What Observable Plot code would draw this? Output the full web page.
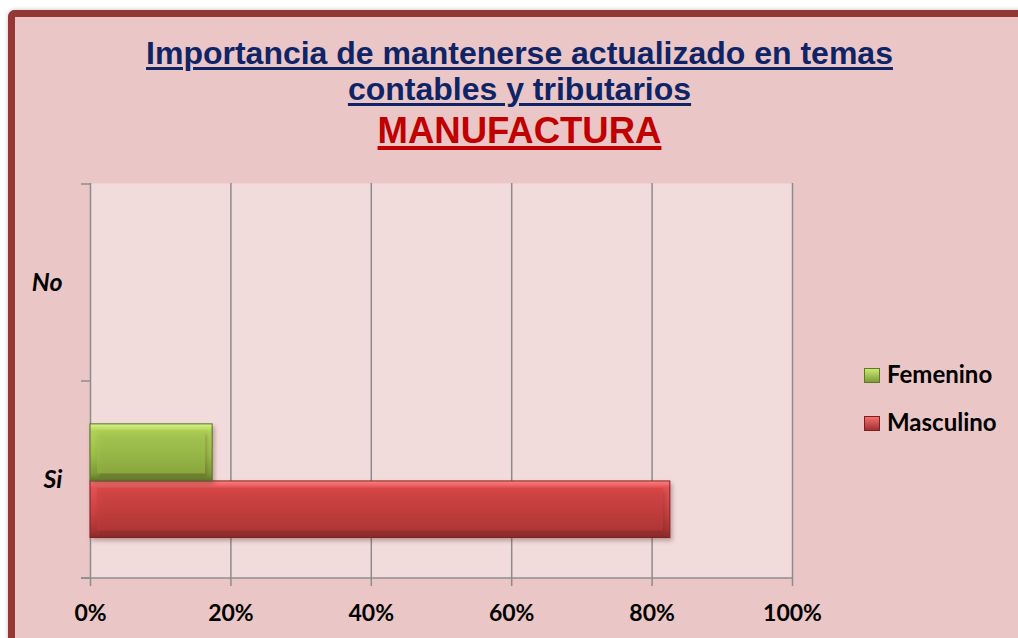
<!DOCTYPE html>
<html>
<head>
<meta charset="utf-8">
<script src="https://cdn.jsdelivr.net/npm/d3@7"></script>
<script src="https://cdn.jsdelivr.net/npm/@observablehq/plot@0.6"></script>
<style>
  body { margin: 0; background: #ffffff; }
  #wrap { position: relative; width: 1018px; height: 638px; overflow: hidden; background: #ffffff; }
  #panel { position: absolute; left: 8px; top: 10px; width: 1100px; height: 700px; background: #EBC6C6;
           border-left: 7px solid #953735; border-top: 7px solid #953735; border-top-left-radius: 7px;
           box-sizing: border-box; box-shadow: 0 0 4px rgba(0,0,0,0.25); }
  .title { position: absolute; left: 0; width: 1039px; text-align: center; font-family: "Liberation Sans", Arial, sans-serif;
           font-weight: bold; text-decoration: underline; white-space: nowrap; }
  .t12 { font-size: 32px; line-height: 36px; color: #0F2466; text-decoration-thickness: 3px; text-underline-offset: 3px; }
  .t3 { font-size: 36.5px; line-height: 40px; color: #C00000; text-decoration-thickness: 3.5px; text-underline-offset: 3px; }
  #chart { position: absolute; left: 0; top: 150px; }
  .legend { position: absolute; left: 864px; font-family: Lato, "Open Sans", sans-serif; font-weight: bold; font-size: 24px;
            line-height: 25px; color: #000; white-space: nowrap; }
  .sw { position: absolute; left: 0; width: 16px; height: 15px; box-sizing: border-box; }
  .legend span.lab { position: absolute; left: 23px; top: 0; }
  g[aria-label="bar"] rect { filter: drop-shadow(2px 3px 2px rgba(90,40,40,0.35)); }
</style>
</head>
<body>
<svg width="0" height="0" style="position:absolute">
  <defs>
    <linearGradient id="gGreen" x1="0" y1="0" x2="0" y2="1">
      <stop offset="0" stop-color="#D9F58A"/>
      <stop offset="0.12" stop-color="#B2D35A"/>
      <stop offset="0.55" stop-color="#9BBE48"/>
      <stop offset="0.88" stop-color="#7E9B38"/>
      <stop offset="1" stop-color="#5E7A28"/>
    </linearGradient>
    <linearGradient id="gGreenIn" x1="0" y1="0" x2="0" y2="1">
      <stop offset="0" stop-color="#A9CD55"/>
      <stop offset="1" stop-color="#8EAF40"/>
    </linearGradient>
    <linearGradient id="gRed" x1="0" y1="0" x2="0" y2="1">
      <stop offset="0" stop-color="#FF8080"/>
      <stop offset="0.12" stop-color="#E25252"/>
      <stop offset="0.55" stop-color="#CC4040"/>
      <stop offset="0.88" stop-color="#A93333"/>
      <stop offset="1" stop-color="#8A2828"/>
    </linearGradient>
    <linearGradient id="gRedIn" x1="0" y1="0" x2="0" y2="1">
      <stop offset="0" stop-color="#D84646"/>
      <stop offset="1" stop-color="#B53838"/>
    </linearGradient>
  </defs>
</svg>
<div id="wrap">
  <div id="panel"></div>
  <div class="title t12" style="top:35px">Importancia de mantenerse actualizado en temas</div>
  <div class="title t12" style="top:71px">contables y tributarios</div>
  <div class="title t3" style="top:111px">MANUFACTURA</div>
  <div id="chart"></div>
  <div class="legend" style="top:361px">
    <div class="sw" style="top:7px;background:linear-gradient(#C9EA72,#7E9B38);border:1px solid #5E7A28"></div>
    <span class="lab">Femenino</span>
  </div>
  <div class="legend" style="top:409px">
    <div class="sw" style="top:7px;background:linear-gradient(#F47070,#A33030);border:1px solid #7A2020"></div>
    <span class="lab">Masculino</span>
  </div>
</div>
<script>
// ---- data ----
const categories = ["No", "Si"];
const seriesNames = ["Femenino", "Masculino"];
const femenino = [0, 0.174];
const masculino = [0, 0.826];
const xTicks = [0, 0.2, 0.4, 0.6, 0.8, 1];

const rows = [];
categories.forEach((c, i) => {
  rows.push({cat: c, serie: seriesNames[0], value: femenino[i]});
  rows.push({cat: c, serie: seriesNames[1], value: masculino[i]});
});

// ---- layout ----
const W = 1018, H = 488, mT = 33, mB = 60, mL = 90, mR = 226;
const bw = (H - mT - mB) / categories.length;
const pad = 0.217, barH = 0.289;
const grid = "#8C8C8C";

function barsFor(name, idx, fillOuter, fillInner, strokeC) {
  const top = bw * (pad + idx * barH);
  const bottom = bw - top - bw * barH;
  const data = rows.filter(d => d.serie === name && d.value > 0);
  return [
    Plot.barX(data, {x: "value", y: "cat", insetTop: top, insetBottom: bottom,
      fill: fillOuter, stroke: strokeC, strokeWidth: 1}),
    Plot.barX(data, {x: "value", y: "cat", insetTop: top + 7, insetBottom: bottom + 7,
      insetLeft: 7, insetRight: 7, fill: fillInner, fillOpacity: 0.85})
  ];
}

const axisDecor = (index, scales, values, dims) => {
  const {x, y} = scales;
  const g = d3.create("svg:g").attr("stroke", grid).attr("stroke-width", 1.5);
  const x0 = x(0), x1 = x(1);
  const bottom = dims.height - dims.marginBottom;
  const ys = categories.map(c => y(c)).concat([bottom]);
  for (const yy of ys) {
    g.append("line").attr("x1", x0 - 9).attr("x2", x0).attr("y1", yy).attr("y2", yy);
  }
  g.append("line").attr("x1", x0 - 9).attr("x2", x1).attr("y1", bottom).attr("y2", bottom);
  return g.node();
};

const chart = Plot.plot({
  width: W, height: H,
  marginTop: mT, marginBottom: mB, marginLeft: mL, marginRight: mR,
  style: {background: "transparent", fontFamily: "Lato, 'Open Sans', sans-serif", fontWeight: "bold", color: "#000", overflow: "visible"},
  x: {domain: [0, 1]},
  y: {domain: categories, padding: 0},
  marks: [
    Plot.frame({fill: "#F2DCDB", stroke: "none"}),
    Plot.gridX(xTicks, {stroke: grid, strokeOpacity: 1, strokeWidth: 1.5}),
    ...barsFor("Masculino", 1, "url(#gRed)", "url(#gRedIn)", "#7E2424"),
    ...barsFor("Femenino", 0, "url(#gGreen)", "url(#gGreenIn)", "#56702A"),
    axisDecor,
    Plot.axisX(xTicks, {tickFormat: d3.format(".0%"), tickSize: 8, tickPadding: 18, stroke: grid, strokeWidth: 1.5,
      fontSize: 23, fontWeight: "bold", fill: "#000", label: null}),
    Plot.axisY({tickSize: 0, tickPadding: 28, fontSize: 25, fontWeight: "bold", fontStyle: "italic", fill: "#000", label: null})
  ]
});
document.getElementById("chart").appendChild(chart);
</script>
</body>
</html>
